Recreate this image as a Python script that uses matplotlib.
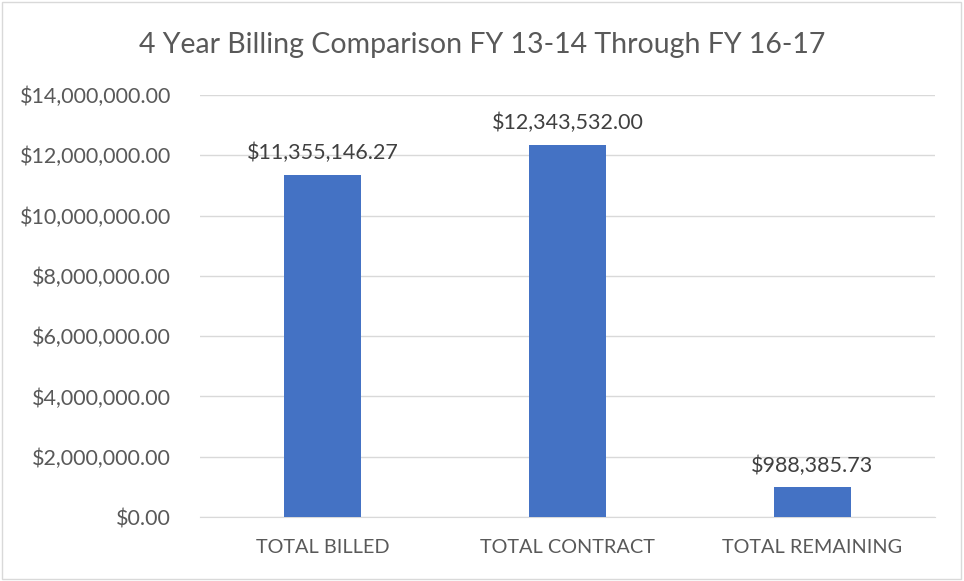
import matplotlib.pyplot as plt
from matplotlib.ticker import FuncFormatter
from matplotlib.patches import Rectangle

categories = ['TOTAL BILLED', 'TOTAL CONTRACT', 'TOTAL REMAINING']
values = [11355146.27, 12343532.00, 988385.73]
title = '4 Year Billing Comparison FY 13-14 Through FY 16-17'

plt.rcParams['font.family'] = ['Lato', 'DejaVu Sans']
text_color = '#595959'

fig = plt.figure(figsize=(9.64, 5.81), dpi=100)
ax = fig.add_axes([200 / 964, 1 - 517 / 581, 735 / 964, 422 / 581])

x = range(len(categories))
ax.bar(x, values, width=0.315, color='#4472C4', zorder=3)

for xi, v in zip(x, values):
    ax.text(xi, v + 380000, f'${v:,.2f}', ha='center', va='bottom',
            fontsize=15.5, color='#404040')

ax.set_xlim(-0.5, 2.5)
ax.set_ylim(0, 14000000)
ax.set_yticks(range(0, 14000001, 2000000))
ax.yaxis.set_major_formatter(FuncFormatter(lambda v, p: f'${v:,.2f}'))
ax.set_xticks(list(x))
ax.set_xticklabels(categories)
ax.tick_params(axis='both', length=0, colors=text_color, labelsize=15.5)
ax.tick_params(axis='x', labelsize=14.3, pad=16)
ax.tick_params(axis='y', pad=21)
ax.grid(axis='y', color='#d9d9d9', linewidth=1, zorder=0)
for side in ['top', 'right', 'left']:
    ax.spines[side].set_visible(False)
ax.spines['bottom'].set_color('#d9d9d9')

fig.text(0.5, 1 - 45 / 581, title, ha='center', va='center',
         fontsize=20.5, color=text_color)

fig.patches.append(Rectangle((0.002, 0.003), 0.995, 0.994, transform=fig.transFigure,
                             fill=False, edgecolor='#d9d9d9', linewidth=1))

plt.savefig('out.png', dpi=100)
